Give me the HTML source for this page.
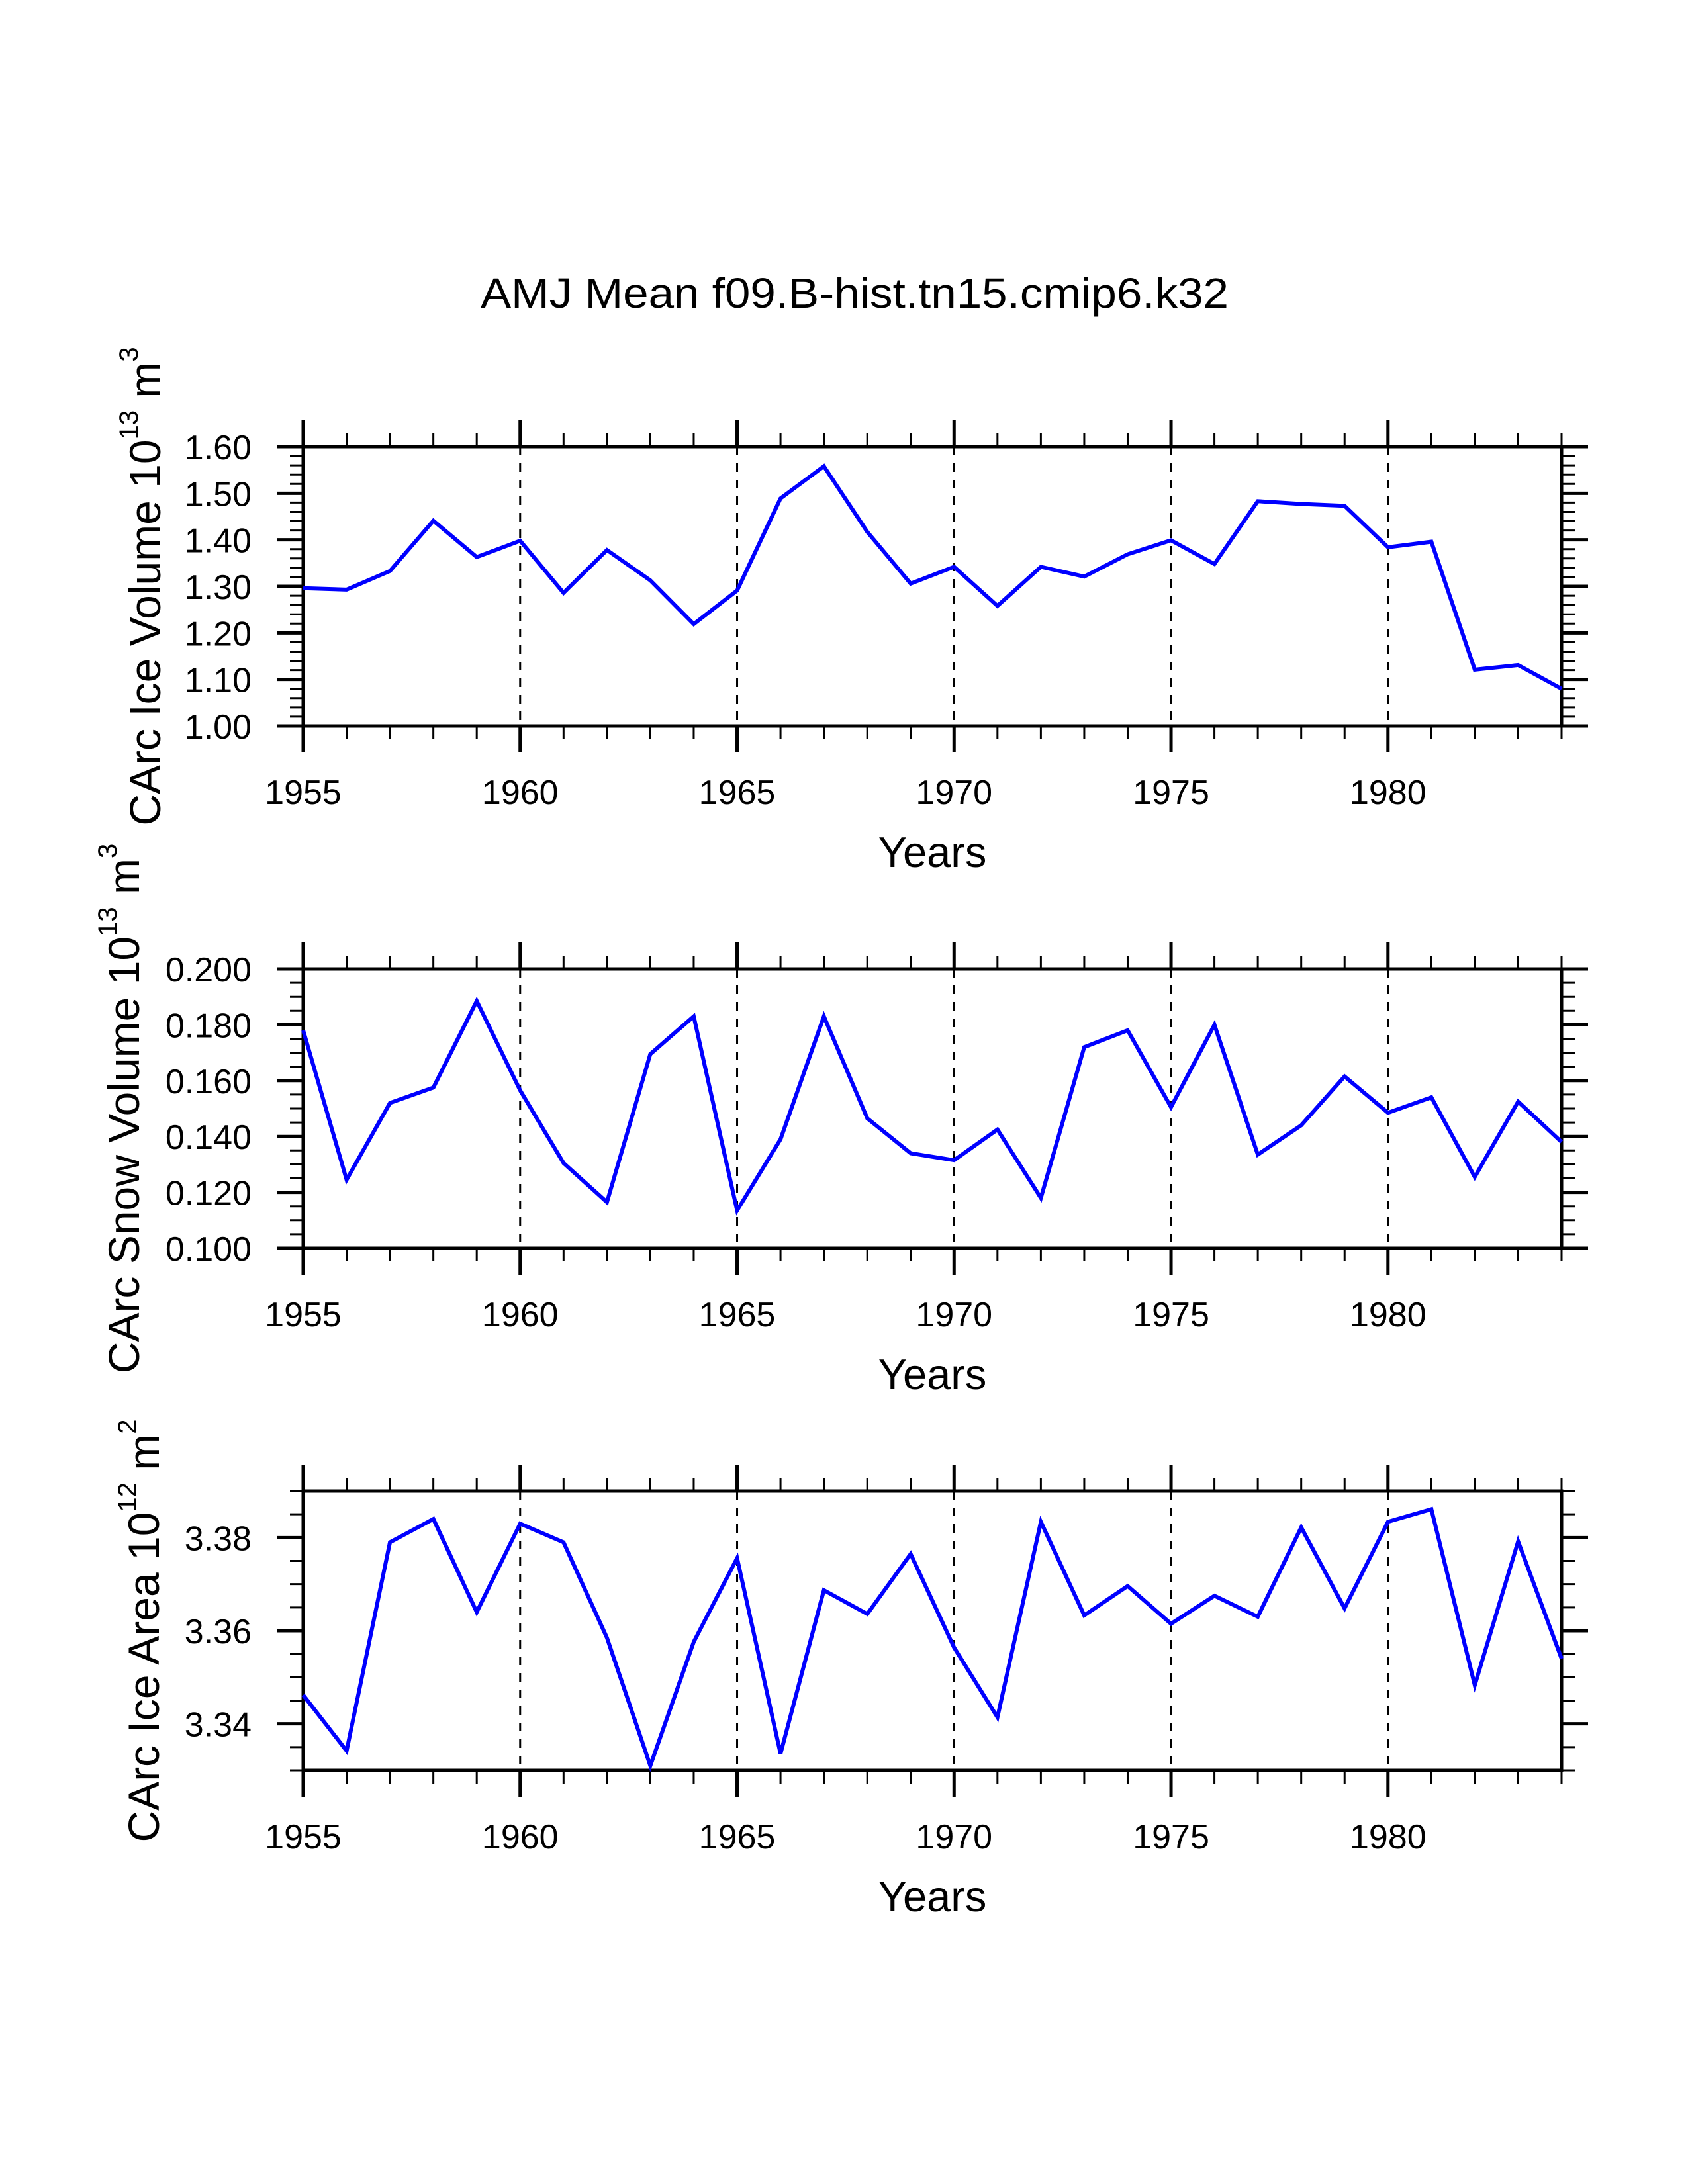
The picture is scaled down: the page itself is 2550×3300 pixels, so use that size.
<!DOCTYPE html>
<html><head><meta charset="utf-8"><style>
html,body{margin:0;padding:0;background:#fff;}
svg{display:block;font-family:"Liberation Sans",sans-serif;}
</style></head><body>
<svg id="chart" xmlns="http://www.w3.org/2000/svg" width="2550" height="3300" viewBox="0 0 2550 3300">
<rect width="2550" height="3300" fill="#fff"/>
<text x="1291" y="465" font-size="64" text-anchor="middle" textLength="1130" lengthAdjust="spacingAndGlyphs">AMJ Mean f09.B-hist.tn15.cmip6.k32</text>
</svg>
<script>
const years = [1955,1956,1957,1958,1959,1960,1961,1962,1963,1964,1965,1966,1967,1968,1969,1970,1971,1972,1973,1974,1975,1976,1977,1978,1979,1980,1981,1982,1983,1984];
const iceVolume = [1.296,1.293,1.333,1.441,1.363,1.398,1.286,1.378,1.313,1.219,1.291,1.489,1.558,1.417,1.306,1.342,1.258,1.342,1.321,1.369,1.399,1.348,1.483,1.477,1.473,1.384,1.396,1.121,1.131,1.080];
const snowVolume = [0.178,0.1245,0.152,0.1575,0.1885,0.1565,0.1305,0.1165,0.1695,0.183,0.1135,0.139,0.183,0.1465,0.134,0.1315,0.1425,0.118,0.172,0.178,0.1505,0.180,0.1335,0.144,0.1615,0.1485,0.154,0.1255,0.1525,0.138];
const iceArea = [3.3462,3.3342,3.379,3.384,3.364,3.383,3.379,3.3585,3.331,3.3576,3.3756,3.3336,3.3687,3.3636,3.3765,3.3564,3.3414,3.3834,3.3633,3.3696,3.3615,3.3675,3.363,3.3822,3.3648,3.3834,3.3861,3.3483,3.3792,3.354];
const xTickLabels = ["1955","1960","1965","1970","1975","1980"];
const iceVolumeTicks = ["1.00","1.10","1.20","1.30","1.40","1.50","1.60"];
const snowVolumeTicks = ["0.100","0.120","0.140","0.160","0.180","0.200"];
const iceAreaTicks = ["3.34","3.36","3.38"];

const NS = "http://www.w3.org/2000/svg";
const svg = document.getElementById('chart');
const X0 = 458, X1 = 2359, XMIN = 1955, XMAX = 1984;
function mk(tag, attrs, parent) {
  const e = document.createElementNS(NS, tag);
  for (const k in attrs) e.setAttribute(k, attrs[k]);
  (parent || svg).appendChild(e);
  return e;
}
function xs(v) { return X0 + (v - XMIN) / (XMAX - XMIN) * (X1 - X0); }

function panel(cfg) {
  const g = mk('g', {});
  
  
  const T = cfg.top, B = cfg.top + 422;
  const ys = v => B - (v - cfg.ymin) / (cfg.ymax - cfg.ymin) * (B - T);
  xTickLabels.slice(1).forEach(l => {
    const x = xs(+l);
    const d = mk('line', {x1: x, x2: x, y1: T, y2: B, stroke: '#000', 'stroke-width': 3, 'stroke-dasharray': '13 12'}, g);
    
    
  });
  for (let y = XMIN; y <= XMAX; y++) {
    const x = xs(y), major = (y % 5 === 0), L = major ? 40 : 20, w = major ? 5 : 3;
    mk('line', {x1: x, x2: x, y1: T - L, y2: T, stroke: '#000', 'stroke-width': w}, g);
    mk('line', {x1: x, x2: x, y1: B, y2: B + L, stroke: '#000', 'stroke-width': w}, g);
  }
  const nMinor = Math.round((cfg.ymax - cfg.ymin) / cfg.minor);
  for (let i = 0; i <= nMinor; i++) {
    const v = cfg.ymin + i * cfg.minor;
    const r = (v - cfg.ticks0) / cfg.major;
    const major = Math.abs(r - Math.round(r)) < 1e-6;
    const y = ys(v), L = major ? 40 : 20, w = major ? 5 : 3;
    mk('line', {x1: X0 - L, x2: X0, y1: y, y2: y, stroke: '#000', 'stroke-width': w}, g);
    mk('line', {x1: X1, x2: X1 + L, y1: y, y2: y, stroke: '#000', 'stroke-width': w}, g);
  }
  const f = mk('rect', {x: X0, y: T, width: X1 - X0, height: B - T, fill: 'none', stroke: '#000', 'stroke-width': 5}, g);
  
  
  cfg.labels.forEach(l => {
    const t = mk('text', {x: 380, y: ys(+l) + 19, 'font-size': 52, 'text-anchor': 'end'}, g);
    
    
    t.textContent = l;
  });
  xTickLabels.forEach(l => {
    const t = mk('text', {x: xs(+l), y: B + 118, 'font-size': 52, 'text-anchor': 'middle'}, g);
    
    
    t.textContent = l;
  });
  const xt = mk('text', {x: (X0 + X1) / 2, y: B + 213, 'font-size': 65, 'text-anchor': 'middle'}, g);
  
  
  xt.textContent = 'Years';
  const yt = mk('text', {transform: 'translate(' + cfg.titleX + ',' + (T + B) / 2 + ') rotate(-90)', 'font-size': 66, 'text-anchor': 'middle'}, g);
  
  
  const parts = [[cfg.title + ' 10', 0, 66], [cfg.exp, -34, 40], [' m', 34, 66], [cfg.unitExp, -34, 40]];
  parts.forEach(p => {
    const s = mk('tspan', {dy: p[1], 'font-size': p[2]}, yt);
    s.textContent = p[0];
  });
  const pts = cfg.data.map((v, i) => xs(years[i]).toFixed(1) + ',' + ys(v).toFixed(1)).join(' ');
  const pl = mk('polyline', {points: pts, fill: 'none', stroke: '#0000ff', 'stroke-width': 6, 'stroke-linejoin': 'miter'}, g);
  
  
}

panel({name: 'ice-volume-panel', top: 675, ymin: 1.0, ymax: 1.6, major: 0.1, minor: 0.02, ticks0: 1.0, labels: iceVolumeTicks, data: iceVolume, title: 'CArc Ice Volume', exp: '13', unitExp: '3', titleX: 242});
panel({name: 'snow-volume-panel', top: 1464, ymin: 0.1, ymax: 0.2, major: 0.02, minor: 0.005, ticks0: 0.1, labels: snowVolumeTicks, data: snowVolume, title: 'CArc Snow Volume', exp: '13', unitExp: '3', titleX: 210});
panel({name: 'ice-area-panel', top: 2253, ymin: 3.33, ymax: 3.39, major: 0.02, minor: 0.005, ticks0: 3.34, labels: iceAreaTicks, data: iceArea, title: 'CArc Ice Area', exp: '12', unitExp: '2', titleX: 240});
</script>
</body></html>
